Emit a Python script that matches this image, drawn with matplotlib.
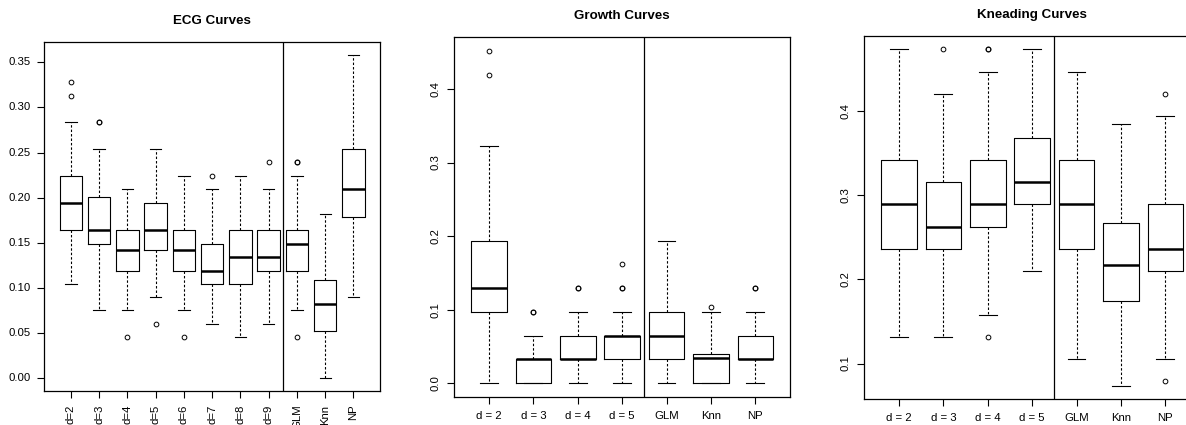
import matplotlib.pyplot as plt
from matplotlib.ticker import FormatStrFormatter

plt.rcParams['font.family'] = ['Liberation Sans', 'DejaVu Sans']

# ECG curves
ecg_labels = ["d=2", "d=3", "d=4", "d=5", "d=6", "d=7", "d=8", "d=9", "GLM", "Knn", "NP"]
ecg_low = [0.104, 0.075, 0.075, 0.090, 0.075, 0.060, 0.045, 0.060, 0.075, 0.000, 0.090]
ecg_q1 = [0.164, 0.149, 0.119, 0.142, 0.119, 0.104, 0.104, 0.119, 0.119, 0.052, 0.179]
ecg_med = [0.194, 0.164, 0.142, 0.164, 0.142, 0.119, 0.134, 0.134, 0.149, 0.082, 0.209]
ecg_q3 = [0.224, 0.201, 0.164, 0.194, 0.164, 0.149, 0.164, 0.164, 0.164, 0.108, 0.254]
ecg_high = [0.284, 0.254, 0.209, 0.254, 0.224, 0.209, 0.224, 0.209, 0.224, 0.182, 0.358]
ecg_out = [[0.313, 0.328], [0.284, 0.284], [0.045], [0.060], [0.045], [0.224], [],
           [0.239], [0.239, 0.239, 0.045], [], []]

# Growth curves
growth_labels = ["d = 2", "d = 3", "d = 4", "d = 5", "GLM", "Knn", "NP"]
growth_low = [0.0, 0.0, 0.0, 0.0, 0.0, 0.0, 0.0]
growth_q1 = [0.097, 0.0, 0.0325, 0.0325, 0.0325, 0.0, 0.0325]
growth_med = [0.129, 0.0325, 0.0325, 0.065, 0.065, 0.035, 0.0325]
growth_q3 = [0.194, 0.0325, 0.065, 0.065, 0.097, 0.040, 0.065]
growth_high = [0.323, 0.065, 0.097, 0.097, 0.194, 0.097, 0.097]
growth_out = [[0.419, 0.452], [0.097, 0.097], [0.129, 0.129], [0.129, 0.129, 0.162],
              [], [0.104], [0.129, 0.129]]

# Kneading curves
knead_labels = ["d = 2", "d = 3", "d = 4", "d = 5", "GLM", "Knn", "NP"]
knead_low = [0.1316, 0.1316, 0.158, 0.2105, 0.105, 0.0738, 0.105]
knead_q1 = [0.2368, 0.2368, 0.263, 0.2895, 0.2368, 0.1738, 0.2105]
knead_med = [0.2895, 0.263, 0.2895, 0.3158, 0.2895, 0.2175, 0.2368]
knead_q3 = [0.342, 0.3158, 0.342, 0.368, 0.342, 0.267, 0.2895]
knead_high = [0.474, 0.421, 0.447, 0.474, 0.447, 0.385, 0.395]
knead_out = [[], [0.474], [0.474, 0.474, 0.1316], [], [], [], [0.421, 0.0789]]

W, H = 1186, 425
fig = plt.figure(figsize=(W / 100, H / 100), dpi=100)


def panel(box, title, labels, low, q1, med, q3, high, out, yticks, yfmt,
          ylab_rot, xlab_rot, split):
    left, top, right, bottom = box
    ax = fig.add_axes([left / W, 1 - bottom / H, (right - left) / W, (bottom - top) / H])
    stats = []
    for i in range(len(labels)):
        stats.append(dict(whislo=low[i], q1=q1[i], med=med[i], q3=q3[i],
                          whishi=high[i], fliers=out[i], label=labels[i]))
    n = len(labels)
    ax.bxp(stats, positions=range(1, n + 1), widths=0.8, capwidths=0.4,
           boxprops=dict(color="black", lw=0.8),
           medianprops=dict(color="black", lw=1.8, solid_capstyle="butt"),
           whiskerprops=dict(color="black", lw=0.8, linestyle=(0, (2.2, 1.8))),
           capprops=dict(color="black", lw=0.8),
           flierprops=dict(marker="o", markerfacecolor="none", markeredgecolor="black",
                           markersize=3.4, markeredgewidth=0.7))
    ax.axvline(split, color="black", lw=0.9)

    # R style 4% padding
    vals = low + high + [v for o in out for v in o]
    lo, hi = min(vals), max(vals)
    pad = 0.04 * (hi - lo)
    ax.set_ylim(lo - pad, hi + pad)
    ax.set_xlim(0.5 - 0.04 * n, n + 0.5 + 0.04 * n)

    ax.set_yticks(yticks)
    ax.yaxis.set_major_formatter(FormatStrFormatter(yfmt))
    ax.tick_params(axis="both", direction="out", length=5, width=0.8,
                   labelsize=8.2, pad=5, colors="black")
    for t in ax.get_yticklabels():
        t.set_rotation(ylab_rot)
        t.set_va("center")
    for t in ax.get_xticklabels():
        t.set_rotation(xlab_rot)
        if xlab_rot == 90:
            t.set_va("top")
    for s in ax.spines.values():
        s.set_linewidth(0.9)
    fig.text((left + right) / 2 / W, 1 - (top - 21) / H, title, ha="center",
             va="center", fontsize=9.6, fontweight="bold")
    return ax


panel((44.3, 42.3, 380, 390.7), "ECG Curves", ecg_labels, ecg_low, ecg_q1, ecg_med,
      ecg_q3, ecg_high, ecg_out, [0, 0.05, 0.10, 0.15, 0.20, 0.25, 0.30, 0.35], "%.2f",
      0, 90, 8.5)
panel((454.3, 37.3, 790, 396.7), "Growth Curves", growth_labels, growth_low, growth_q1,
      growth_med, growth_q3, growth_high, growth_out, [0, 0.1, 0.2, 0.3, 0.4], "%.1f",
      90, 0, 4.5)
panel((864.3, 35.7, 1200, 399), "Kneading Curves", knead_labels, knead_low, knead_q1,
      knead_med, knead_q3, knead_high, knead_out, [0.1, 0.2, 0.3, 0.4], "%.1f",
      90, 0, 4.5)

fig.savefig("out.png", dpi=100)
